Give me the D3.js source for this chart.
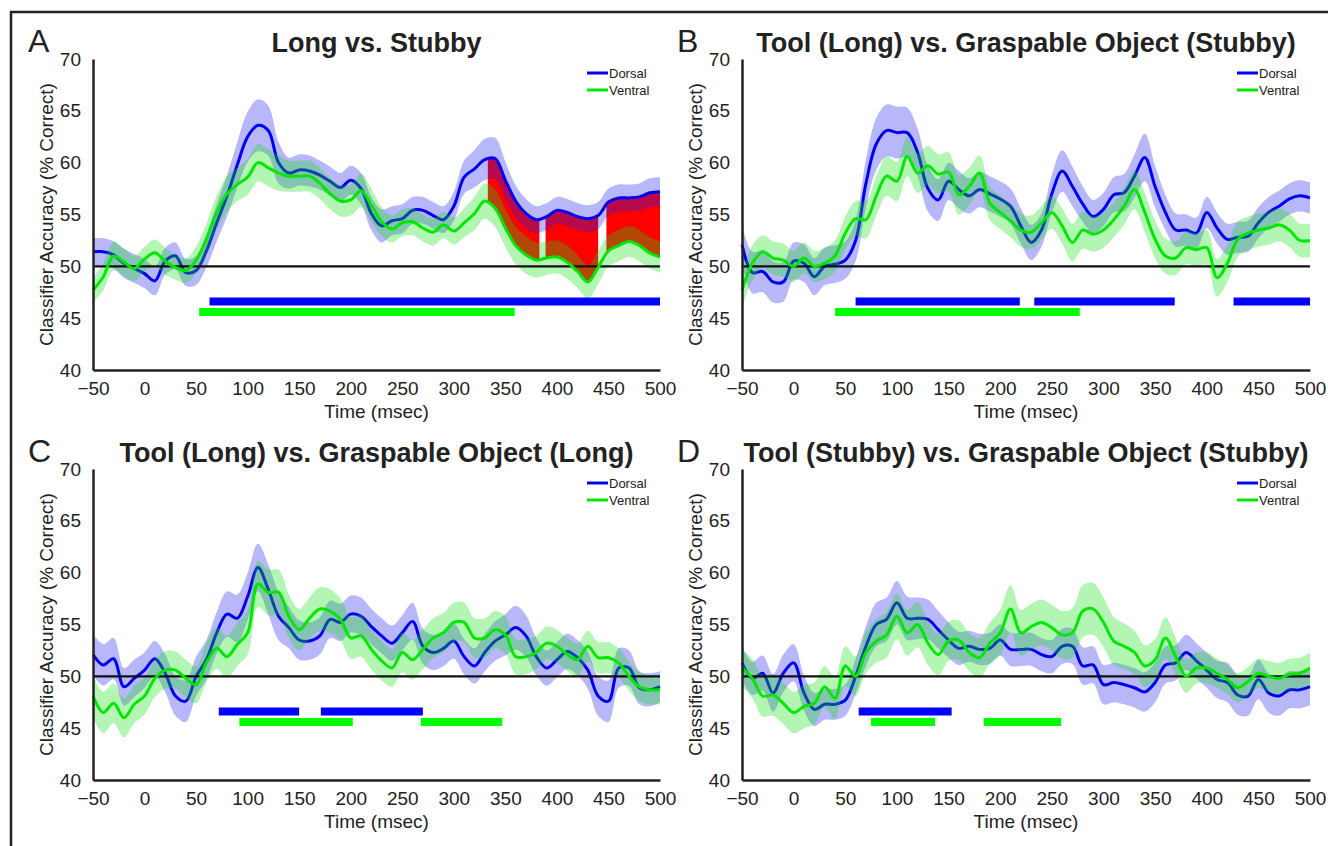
<!DOCTYPE html>
<html lang="en">
<head>
<meta charset="UTF-8">
<title>Classifier accuracy over time</title>
<script src="https://d3js.org/d3.v7.min.js"></script>
<style>
  body { margin: 0; background: #fff; }
  svg { font-family: "Liberation Sans", Arial, Helvetica, sans-serif; }
  svg text { fill: #222; }
</style>
</head>
<body>
<svg id="fig" width="1328" height="846"></svg>
<script>
// time grid (msec) shared by every series
const times = [-50,-40,-30,-20,-10,0,10,20,30,40,50,60,70,80,90,100,110,120,130,140,
  150,160,170,180,190,200,210,220,230,240,250,260,270,280,290,300,310,320,330,340,
  350,360,370,380,390,400,410,420,430,440,450,460,470,480,490,500];
const xTicks = [-50,0,50,100,150,200,250,300,350,400,450,500];
const yTicks = [40,45,50,55,60,65,70];
const chance = 50;
const legendNames = ["Dorsal", "Ventral"];

// A: Long vs. Stubby
const dorsalA = [51.4,51.4,51.1,50.3,49.8,49.3,48.6,50.5,51.0,49.4,
  49.6,51.5,54.2,56.8,59.8,62.5,63.6,63.1,60.0,59.0,
  59.3,59.2,58.8,58.2,57.6,58.3,57.5,55.1,53.9,54.4,
  54.6,55.4,55.4,54.9,54.5,55.8,58.6,59.4,60.3,60.4,
  58.3,56.3,55.1,54.5,54.8,55.4,55.2,54.8,54.6,54.9,
  56.2,56.6,56.6,56.7,57.1,57.2];
const ventralA = [47.7,49.0,51.0,50.4,49.8,50.7,51.3,50.5,49.9,49.6,
  50.6,52.6,55.2,57.0,57.9,58.6,60.0,59.5,59.0,58.7,
  58.7,58.7,58.0,57.0,56.3,56.4,57.3,55.9,54.3,53.6,
  54.2,54.3,53.7,53.3,54.0,53.4,54.2,55.1,56.3,55.6,
  53.7,52.0,51.1,50.6,50.8,50.9,50.4,49.5,48.5,49.9,
  51.5,52.0,52.4,52.0,51.3,50.9];
const dorsalErrA = [1.3,1.3,1.3,1.4,1.4,1.4,1.4,1.3,1.3,1.3,1.4,
  1.6,1.8,2.0,2.2,2.4,2.5,2.4,2.0,
  1.5,1.5,1.5,1.4,1.4,1.4,1.4,
  1.5,1.6,1.6,1.4,1.4,1.3,1.3,1.3,1.3,1.4,
  1.6,1.8,2.0,2.0,1.8,
  1.5,1.4,1.3,1.3,1.3,1.3,1.3,1.3,1.3,1.3,1.3,1.3,1.3,1.4,1.4];
const ventralErrA = [1.2,1.3,1.4,1.3,1.2,1.2,1.3,1.3,1.2,1.2,1.3,
  1.5,1.6,1.7,1.6,1.7,1.8,1.8,1.7,
  1.5,1.5,1.5,1.5,1.5,1.5,1.5,
  1.6,1.6,1.4,1.3,1.3,1.3,1.3,1.3,1.3,1.3,
  1.4,1.6,1.7,1.8,1.8,
  1.8,1.8,1.7,1.6,1.6,1.6,1.6,1.6,1.6,1.5,1.5,1.5,1.5,1.5,1.5];
const sigDorsalA = [[63, 500]];
const sigVentralA = [[53, 359]];
const diffSpansA = [[333, 383], [389, 440], [448, 500]];

// B: Tool (Long) vs. Graspable Object (Stubby)
const dorsalB = [52.1,49.4,49.5,48.5,48.5,50.5,50.3,49.0,50.0,50.2,
  50.6,52.5,58.0,61.8,63.1,62.9,62.9,61.0,57.5,56.4,
  58.2,57.4,56.8,57.4,57.0,56.5,55.8,53.9,52.3,53.5,
  57.0,59.2,57.7,56.0,54.8,55.5,56.9,57.1,58.7,60.5,
  57.7,55.2,53.5,53.5,53.2,55.2,53.7,52.6,52.8,52.9,
  54.2,55.2,55.8,56.5,56.8,56.6];
const ventralB = [47.7,50.3,51.4,50.8,50.6,50.0,50.8,50.0,50.3,51.0,
  53.2,54.6,54.5,56.8,58.7,58.2,60.6,59.0,59.7,58.9,
  59.1,56.9,57.7,59.0,56.1,55.2,54.4,53.5,53.3,54.2,
  55.2,53.9,52.3,53.5,53.1,53.5,54.5,55.8,57.4,55.2,
  52.6,51.0,50.8,51.8,51.6,51.8,48.9,50.3,52.6,53.2,
  53.5,53.7,54.0,53.5,52.5,52.5];
const dorsalErrB = [1.9,2.0,2.0,2.0,1.9,1.8,1.8,1.8,1.8,1.8,1.8,
  2.0,2.3,2.5,2.5,2.5,2.4,2.3,2.2,
  2.0,1.8,1.8,1.7,1.7,1.7,1.7,
  1.7,1.7,1.7,1.6,1.8,2.0,1.9,1.7,1.6,1.6,
  1.7,1.8,2.1,2.3,2.0,
  1.7,1.6,1.5,1.5,1.5,1.5,1.5,1.5,1.5,1.5,1.5,1.5,1.5,1.5,1.5];
const ventralErrB = [1.7,1.7,1.6,1.6,1.6,1.5,1.5,1.5,1.5,1.5,1.6,
  1.7,1.8,1.9,1.9,1.9,1.9,1.9,1.9,
  1.9,1.9,1.9,1.8,1.7,1.6,1.6,
  1.6,1.6,1.6,1.6,1.6,1.7,1.8,1.8,1.7,1.7,
  1.7,1.8,1.9,1.9,1.8,
  1.7,1.6,1.6,1.6,1.7,1.8,1.8,1.7,1.6,1.6,1.6,1.6,1.6,1.6,1.6];
const sigDorsalB = [[60, 219], [233, 369], [426, 500]];
const sigVentralB = [[40, 277]];

// C: Tool (Long) vs. Graspable Object (Long)
const dorsalC = [52.1,51.1,51.7,49.0,49.8,50.6,51.7,50.3,48.1,47.6,
  50.0,51.6,54.2,56.0,55.6,57.7,60.5,58.4,55.8,54.7,
  53.5,53.4,53.9,55.5,55.2,56.0,55.8,54.8,53.9,53.2,
  54.2,55.3,52.9,52.3,52.7,53.4,51.9,51.0,52.3,53.4,
  54.0,54.7,53.9,51.9,50.8,51.6,52.4,51.8,50.6,48.1,
  47.6,50.8,50.8,48.9,48.7,49.0];
const ventralC = [48.1,46.5,47.4,46.0,47.3,48.1,49.8,50.6,50.6,49.8,
  49.2,51.3,52.7,51.9,53.1,54.2,58.9,58.1,58.1,55.8,
  54.5,55.6,56.5,56.3,55.5,53.7,53.9,52.6,51.5,50.8,
  52.3,51.6,52.6,53.7,54.2,55.2,55.2,53.7,53.7,54.5,
  54.0,51.9,51.9,52.3,53.2,52.9,52.1,51.6,52.9,51.8,
  51.8,51.3,50.0,49.0,48.7,48.7];
const dorsalErrC = [2.0,2.0,2.0,1.8,1.8,1.7,1.7,1.8,1.9,2.0,1.9,
  1.9,2.0,2.2,2.3,2.3,2.3,2.4,2.3,
  2.0,1.9,1.8,1.8,1.8,1.8,1.8,
  1.8,1.7,1.7,1.7,1.7,1.8,1.7,1.7,1.7,1.7,
  1.7,1.7,1.8,1.9,2.0,
  2.1,2.0,1.8,1.7,1.7,1.7,1.7,1.8,1.9,2.0,1.9,1.7,1.6,1.6,1.5];
const ventralErrC = [2.0,2.0,1.9,1.9,1.8,1.8,1.8,1.8,1.8,1.8,1.8,
  1.9,2.0,2.0,2.1,2.1,2.2,2.2,2.2,
  2.1,2.0,2.0,2.1,2.1,2.0,2.0,
  2.0,1.9,1.9,1.8,1.9,1.9,1.9,1.9,1.9,1.9,
  1.9,1.9,1.9,1.8,1.8,
  1.7,1.7,1.6,1.6,1.6,1.6,1.6,1.5,1.5,1.5,1.4,1.4,1.4,1.4,1.4];
const sigDorsalC = [[72, 150], [171, 270]];
const sigVentralC = [[92, 202], [268, 347]];

// D: Tool (Stubby) vs. Graspable Object (Stubby)
const dorsalD = [51.3,49.8,50.3,48.4,50.3,51.3,48.4,46.8,47.3,47.3,
  47.7,50.0,52.9,55.0,55.5,57.1,55.6,55.6,55.5,54.5,
  53.5,52.7,52.9,52.6,52.7,53.5,52.6,52.6,52.6,52.1,
  51.9,52.9,52.9,51.0,51.1,49.2,49.4,49.2,48.9,48.5,
  49.4,51.1,51.3,52.3,51.5,50.6,49.7,49.4,48.2,48.1,
  49.7,48.4,48.1,48.7,48.7,49.0];
const ventralD = [50.8,49.8,48.1,48.2,47.4,46.5,47.1,47.4,49.0,47.9,
  51.0,50.0,52.3,53.4,54.0,55.8,54.2,55.0,53.2,52.1,
  53.4,53.5,52.3,51.8,53.2,54.2,56.5,54.2,54.8,55.2,
  54.7,54.0,54.2,56.3,56.5,55.2,53.4,52.9,52.3,51.0,
  51.6,53.7,51.9,50.0,50.8,50.8,50.3,49.7,48.9,49.5,
  50.3,50.0,49.8,50.2,50.3,50.8];
const dorsalErrD = [1.6,1.6,1.7,1.8,1.8,1.8,1.7,1.6,1.5,1.5,1.5,
  1.7,1.9,2.1,2.1,2.1,2.1,2.0,1.9,
  1.8,1.7,1.6,1.5,1.5,1.5,1.5,
  1.6,1.6,1.6,1.6,1.6,1.7,1.7,1.8,1.8,1.9,
  1.9,1.9,1.9,1.9,1.9,
  1.8,1.7,1.7,1.7,1.7,1.8,1.9,1.9,1.9,1.9,1.9,1.9,1.8,1.8,1.8];
const ventralErrD = [1.8,1.9,2.0,2.0,2.0,2.0,2.1,2.0,2.0,2.0,1.9,
  1.9,2.0,2.1,2.2,2.2,2.2,2.2,2.1,
  2.0,1.9,1.9,1.8,1.9,2.0,2.2,
  2.3,2.2,2.2,2.2,2.2,2.3,2.4,2.5,2.5,2.4,
  2.3,2.2,2.1,2.0,2.0,
  2.0,1.8,1.6,1.5,1.5,1.4,1.4,1.4,1.4,1.4,1.5,1.5,1.5,1.5,1.5];
const sigDorsalD = [[63, 153]];
const sigVentralD = [[75, 137], [184, 259]];

// significance bar levels (% correct)
const sigLevelDorsal = 46.6;
const sigLevelVentral = 45.6;

const panels = [
  { letter: "A", title: "Long vs. Stubby", dorsal: dorsalA, ventral: ventralA,
    dErr: dorsalErrA, vErr: ventralErrA, sigD: sigDorsalA, sigV: sigVentralA, diff: diffSpansA,
    left: 93, right: 660, top: 59, bottom: 370 },
  { letter: "B", title: "Tool (Long) vs. Graspable Object (Stubby)", dorsal: dorsalB, ventral: ventralB,
    dErr: dorsalErrB, vErr: ventralErrB, sigD: sigDorsalB, sigV: sigVentralB, diff: [],
    left: 742, right: 1310, top: 59, bottom: 370 },
  { letter: "C", title: "Tool (Long) vs. Graspable Object (Long)", dorsal: dorsalC, ventral: ventralC,
    dErr: dorsalErrC, vErr: ventralErrC, sigD: sigDorsalC, sigV: sigVentralC, diff: [],
    left: 93, right: 660, top: 469, bottom: 780 },
  { letter: "D", title: "Tool (Stubby) vs. Graspable Object (Stubby)", dorsal: dorsalD, ventral: ventralD,
    dErr: dorsalErrD, vErr: ventralErrD, sigD: sigDorsalD, sigV: sigVentralD, diff: [],
    left: 742, right: 1310, top: 469, bottom: 780 }
];

const blue = "#0000f0", green = "#00e600";
const svg = d3.select("#fig");

// outer frame (runs off the right and bottom edges)
svg.append("rect")
  .attr("x", 11).attr("y", 12)
  .attr("width", 1340).attr("height", 850)
  .attr("fill", "none").attr("stroke", "#222").attr("stroke-width", 2.5);

panels.forEach((p, pi) => {
  const x = d3.scaleLinear().domain([-50, 500]).range([p.left, p.right]);
  const y = d3.scaleLinear().domain([40, 70]).range([p.bottom, p.top]);
  const g = svg.append("g");
  const curve = d3.curveCatmullRom.alpha(0.5);

  const line = arr => d3.line().curve(curve)
    .x((d, i) => x(times[i])).y(d => y(d))(arr);
  const band = (arr, err) => d3.area().curve(curve)
    .x((d, i) => x(times[i]))
    .y0((d, i) => y(d - err[i]))
    .y1((d, i) => y(d + err[i]))(arr);

  // red fill between the two means where they differ
  if (p.diff.length) {
    const clipId = "diffclip" + pi;
    const clip = svg.append("clipPath").attr("id", clipId);
    p.diff.forEach(s => {
      clip.append("rect")
        .attr("x", x(s[0])).attr("width", x(s[1]) - x(s[0]))
        .attr("y", p.top - 10).attr("height", p.bottom - p.top + 20);
    });
    g.append("path")
      .attr("d", d3.area().curve(curve)
        .x((d, i) => x(times[i]))
        .y0((d, i) => y(p.ventral[i]))
        .y1(d => y(d))(p.dorsal))
      .attr("fill", "#ff0000")
      .attr("clip-path", `url(#${clipId})`);
  }

  g.append("path").attr("d", band(p.dorsal, p.dErr))
    .attr("fill", "rgb(30,30,235)").attr("fill-opacity", 0.32);
  g.append("path").attr("d", line(p.dorsal))
    .attr("fill", "none").attr("stroke", blue).attr("stroke-width", 3);
  g.append("path").attr("d", band(p.ventral, p.vErr))
    .attr("fill", "rgb(20,225,20)").attr("fill-opacity", 0.32);

  // chance line
  g.append("line")
    .attr("x1", x(-50)).attr("x2", x(500))
    .attr("y1", y(chance)).attr("y2", y(chance))
    .attr("stroke", "#111").attr("stroke-width", 2.2);

  g.append("path").attr("d", line(p.ventral))
    .attr("fill", "none").attr("stroke", green).attr("stroke-width", 3);

  // significance bars
  g.selectAll(".sigd").data(p.sigD).enter().append("line")
    .attr("x1", d => x(d[0])).attr("x2", d => x(d[1]))
    .attr("y1", y(sigLevelDorsal)).attr("y2", y(sigLevelDorsal))
    .attr("stroke", "#0000ff").attr("stroke-width", 8);
  g.selectAll(".sigv").data(p.sigV).enter().append("line")
    .attr("x1", d => x(d[0])).attr("x2", d => x(d[1]))
    .attr("y1", y(sigLevelVentral)).attr("y2", y(sigLevelVentral))
    .attr("stroke", "#00ff00").attr("stroke-width", 8);

  // axes
  const yAxis = g.append("g").attr("transform", `translate(${p.left},0)`)
    .call(d3.axisLeft(y).tickValues(yTicks).tickSize(0).tickPadding(12));
  const xAxis = g.append("g").attr("transform", `translate(0,${p.bottom})`)
    .call(d3.axisBottom(x).tickValues(xTicks).tickSize(0).tickPadding(12));
  [yAxis, xAxis].forEach(a => {
    a.select(".domain").attr("stroke", "#222").attr("stroke-width", 2.5);
    a.selectAll("text").attr("font-size", 19).attr("fill", "#222")
      .style("font-family", "'Liberation Sans', Arial, sans-serif");
  });

  g.append("text")
    .attr("x", (p.left + p.right) / 2).attr("y", p.bottom + 48)
    .attr("text-anchor", "middle").attr("font-size", 19)
    .text("Time (msec)");
  g.append("text")
    .attr("transform", `translate(${p.left - 47},${(p.top + p.bottom) / 2}) rotate(-90)`)
    .attr("text-anchor", "middle").attr("dominant-baseline", "central")
    .attr("font-size", 19)
    .text("Classifier Accuracy (% Correct)");

  // panel letter and title
  g.append("text")
    .attr("x", p.left - 65).attr("y", p.top - 7)
    .attr("font-size", 32).text(p.letter);
  g.append("text")
    .attr("x", (p.left + p.right) / 2).attr("y", p.top - 7)
    .attr("text-anchor", "middle").attr("font-size", 27).attr("font-weight", "bold")
    .text(p.title);

  // legend
  const lg = g.append("g");
  [blue, green].forEach((c, i) => {
    const ly = p.top + 14 + i * 17;
    lg.append("line")
      .attr("x1", p.right - 73).attr("x2", p.right - 52)
      .attr("y1", ly).attr("y2", ly)
      .attr("stroke", c).attr("stroke-width", 3);
    lg.append("text")
      .attr("x", p.right - 51).attr("y", ly)
      .attr("dominant-baseline", "central")
      .attr("font-size", 13).attr("fill", "#333")
      .text(legendNames[i]);
  });
});
</script>
</body>
</html>
